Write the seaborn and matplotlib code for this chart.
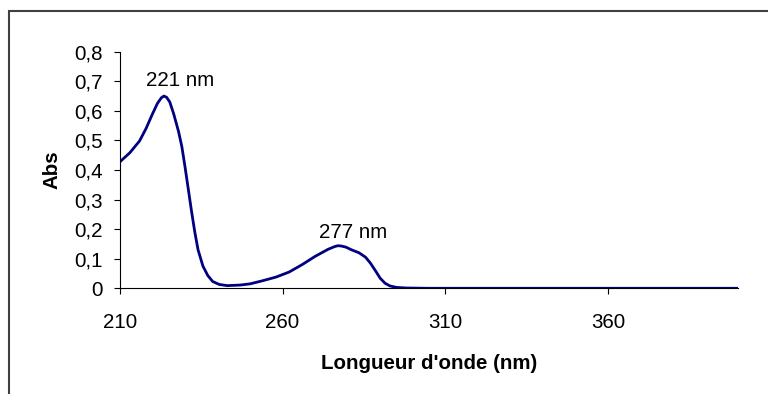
import matplotlib
matplotlib.use("Agg")
import matplotlib.pyplot as plt
import seaborn as sns
import pandas as pd
from matplotlib.patches import Rectangle

wavelength = [210, 213, 216, 218, 220, 221.5, 222.7, 223.5, 224.3, 225.3, 226.5, 228, 229, 230,
              231, 232, 233, 234, 235.5, 237, 238.5, 240.5, 243, 247, 250, 254, 258, 262, 266,
              270, 274, 276, 277, 278, 279.5, 281, 283.5, 285.5, 287, 288.5, 290, 291.5, 293,
              295, 298, 305, 400]
absorbance = [0.428, 0.458, 0.498, 0.54, 0.59, 0.625, 0.644, 0.65, 0.646, 0.63, 0.59, 0.53,
              0.48, 0.41, 0.335, 0.26, 0.19, 0.13, 0.075, 0.043, 0.023, 0.013, 0.009, 0.011,
              0.015, 0.026, 0.038, 0.055, 0.08, 0.108, 0.132, 0.141, 0.144, 0.143, 0.139, 0.131,
              0.12, 0.105, 0.085, 0.06, 0.034, 0.017, 0.008, 0.003, 0.001, 0.0, 0.0]
x_ticks = [210, 260, 310, 360]
y_ticks = [0, 0.1, 0.2, 0.3, 0.4, 0.5, 0.6, 0.7, 0.8]
y_tick_labels = ["0", "0,1", "0,2", "0,3", "0,4", "0,5", "0,6", "0,7", "0,8"]
peak_labels = ["221 nm", "277 nm"]
peak_x = [228.4, 281.6]
peak_y = [0.704, 0.187]

sns.set_theme(style="ticks")
plt.rcParams['font.family'] = ['Liberation Sans', 'DejaVu Sans']

df = pd.DataFrame({"wl": wavelength, "abs": absorbance})

fig = plt.figure(figsize=(7.68, 3.94), dpi=100)
ax = fig.add_axes([0.15625, 0.2683, 0.9609 - 0.15625, 0.8688 - 0.2683])

sns.lineplot(data=df, x="wl", y="abs", ax=ax, color="#000080", linewidth=2.0, sort=False)
ax.lines[0].set_solid_joinstyle("round")

ax.set_xlim(210, 400)
ax.set_ylim(0, 0.8)
ax.set_xticks(x_ticks)
ax.set_xticklabels([str(t) for t in x_ticks])
ax.set_yticks(y_ticks)
ax.set_yticklabels(y_tick_labels)

for s in ["top", "right"]:
    ax.spines[s].set_visible(False)
for s in ["left", "bottom"]:
    ax.spines[s].set_color("black")
    ax.spines[s].set_linewidth(0.8)

fs = 14.8
ax.tick_params(axis="y", direction="out", length=4.5, width=0.8, color="black",
               labelsize=fs, pad=8, labelcolor="black")
ax.tick_params(axis="x", direction="out", length=4.5, width=0.8, color="black",
               labelsize=fs, pad=13, labelcolor="black")

ax.set_xlabel("Longueur d'onde (nm)", fontsize=fs, fontweight="bold", labelpad=16, color="black")
ax.set_ylabel("Abs", fontsize=fs, fontweight="bold", labelpad=9, color="black")

for lab, px, py in zip(peak_labels, peak_x, peak_y):
    ax.text(px, py, lab, ha="center", va="center", fontsize=fs, color="black")

ax.grid(False)
ax.set_facecolor("white")

fig.patches.append(Rectangle((9 / 768, -0.1), 1.2, 1 - 11 / 394 + 0.1,
                             transform=fig.transFigure, fill=False,
                             edgecolor="#404040", linewidth=1.5))

fig.savefig("out.png", dpi=100, facecolor="white")
